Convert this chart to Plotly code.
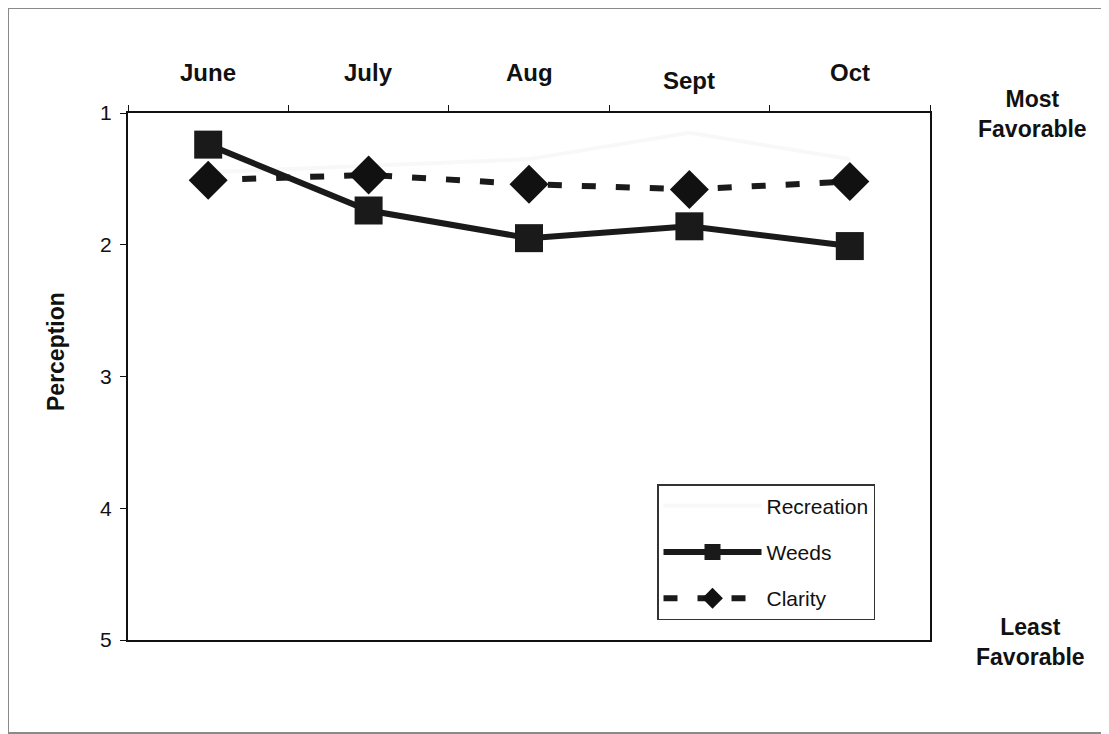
import plotly.graph_objects as go

months = ["June", "July", "Aug", "Sept", "Oct"]
recreation = [1.45, 1.4, 1.35, 1.15, 1.35]
weeds = [1.24, 1.74, 1.95, 1.86, 2.01]
clarity = [1.51, 1.47, 1.54, 1.58, 1.52]
y_ticks = [1, 2, 3, 4, 5]

OFF = 8  # default page body margin
W, H = 1109 - OFF, 734 - OFF
L, R, T, B = 128, 930, 113, 640  # target screen positions of plot area
xs = list(range(len(months)))

FONT = "Arial, Liberation Sans, sans-serif"
BOLD = 23
REG = 21

fig = go.Figure()
fig.add_trace(go.Scatter(x=xs, y=recreation, name="Recreation", mode="lines",
                         line=dict(color="#f8f8f8", width=4), legendgroup="a"))
fig.add_trace(go.Scatter(x=xs, y=weeds, name="Weeds", mode="lines+markers",
                         line=dict(color="#1a1a1a", width=6),
                         marker=dict(symbol="square", size=28, color="#1a1a1a"),
                         legendgroup="b"))
fig.add_trace(go.Scatter(x=xs, y=clarity, name="Clarity", mode="lines+markers",
                         line=dict(color="#1a1a1a", width=6, dash="14px,20px"),
                         marker=dict(symbol="diamond", size=30, color="#111111"),
                         legendgroup="c"))

def px(v):
    return (v - L) / (R - L)

def py(v):
    return (B - v) / (B - T)

annotations = []
for i, m in enumerate(months):
    yy = 80 if m == "Sept" else 73
    annotations.append(dict(x=i, y=py(yy), xref="x", yref="paper", text=f"<b>{m}</b>",
                            showarrow=False, font=dict(family=FONT, size=24, color="#111"),
                            xanchor="center", yanchor="middle"))
annotations.append(dict(x=px(1032), y=py(114), xref="paper", yref="paper",
                        text="<b>Most<br>Favorable</b>", showarrow=False,
                        xanchor="center", yanchor="middle",
                        font=dict(family=FONT, size=BOLD, color="#111"), align="center"))
annotations.append(dict(x=px(1030), y=py(642), xref="paper", yref="paper",
                        text="<b>Least<br>Favorable</b>", showarrow=False,
                        xanchor="center", yanchor="middle",
                        font=dict(family=FONT, size=BOLD, color="#111"), align="center"))
annotations.append(dict(x=px(56), y=py(352), xref="paper", yref="paper",
                        text="<b>Perception</b>", showarrow=False, textangle=-90,
                        xanchor="center", yanchor="middle",
                        font=dict(family=FONT, size=BOLD, color="#111")))

shapes = [dict(type="rect", xref="paper", yref="paper",
               x0=px(8), x1=px(1120), y0=py(733), y1=py(8),
               line=dict(color="#8a8a8a", width=2), layer="below")]

fig.update_layout(
    width=W, height=H,
    margin=dict(l=L - OFF, r=(W + OFF) - R, t=T - OFF, b=(H + OFF) - B),
    paper_bgcolor="white", plot_bgcolor="white",
    font=dict(family=FONT, size=REG, color="#111"),
    xaxis=dict(range=[-0.5, 4.5], side="top", tickvals=[-0.5, 0.5, 1.5, 2.5, 3.5, 4.5],
               ticktext=[""] * 6, ticks="outside", ticklen=6, tickcolor="#111",
               showgrid=False, zeroline=False, showline=True, linecolor="#111",
               linewidth=2, mirror=True),
    yaxis=dict(range=[5, 1], tickvals=y_ticks, ticks="outside", ticklen=6,
               tickcolor="#111", showgrid=False, zeroline=False, showline=True,
               linecolor="#111", linewidth=2, mirror=True,
               tickfont=dict(size=REG), ticklabelstandoff=4),
    legend=dict(x=px(657), y=py(484), xanchor="left", yanchor="top",
                bordercolor="#333", borderwidth=1.5, bgcolor="white",
                font=dict(size=REG), tracegroupgap=16, itemwidth=98,
                traceorder="grouped"),
    annotations=annotations,
    shapes=shapes,
)

fig.write_html("out.html")
